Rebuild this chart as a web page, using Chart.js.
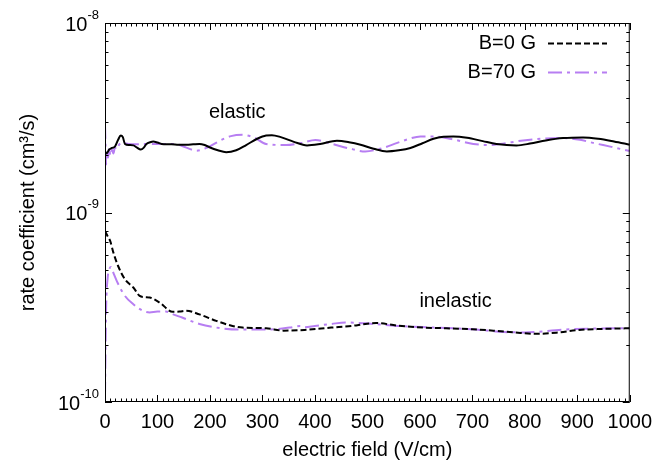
<!DOCTYPE html>
<html>
<head>
<meta charset="utf-8">
<script src="https://cdn.jsdelivr.net/npm/chart.js@4.4.1/dist/chart.umd.min.js"></script>
<style>
  html, body { margin: 0; padding: 0; background: #fff; }
  #wrap { width: 660px; height: 463px; }
</style>
</head>
<body>
<div id="wrap"><canvas id="myChart" width="660" height="463"></canvas></div>
<script>
// elastic, B=0 G (solid black)
const elasticB0X = [0, 3, 8, 13, 19, 25, 30, 34, 38, 46, 54, 61, 68, 74, 79, 86, 92, 100, 108, 118, 127, 140, 155, 168, 180, 190, 199, 215, 231, 250, 269, 290, 307, 318, 335, 360, 385, 410, 442, 465, 487, 512, 537, 560, 582, 605, 626, 645, 664, 690, 720, 746, 784, 810, 840, 873, 911, 940, 970, 1000];
const elasticB0Y = [2.10, 2.05, 2.15, 2.19, 2.23, 2.42, 2.55, 2.50, 2.30, 2.27, 2.26, 2.20, 2.15, 2.20, 2.30, 2.35, 2.37, 2.34, 2.30, 2.29, 2.29, 2.28, 2.28, 2.29, 2.30, 2.27, 2.21, 2.13, 2.08, 2.13, 2.27, 2.45, 2.55, 2.56, 2.50, 2.36, 2.26, 2.30, 2.39, 2.35, 2.28, 2.17, 2.10, 2.13, 2.19, 2.32, 2.45, 2.51, 2.52, 2.48, 2.38, 2.30, 2.26, 2.31, 2.40, 2.47, 2.49, 2.45, 2.37, 2.28];

// elastic, B=70 G (purple dash-dot)
const elasticB70X = [0, 1, 2, 4, 6, 8, 10, 13, 16, 19, 22, 27, 32, 45, 60, 80, 100, 120, 136, 155, 174, 195, 220, 240, 262, 285, 307, 345, 375, 401, 433, 465, 496, 527, 557, 580, 601, 626, 660, 702, 731, 753, 797, 840, 873, 905, 930, 965, 1000];
const elasticB70Y = [2.90, 2.30, 1.79, 2.10, 1.95, 2.20, 2.00, 2.15, 2.05, 2.20, 2.15, 2.28, 2.33, 2.30, 2.29, 2.30, 2.30, 2.30, 2.29, 2.20, 2.12, 2.20, 2.40, 2.53, 2.57, 2.48, 2.30, 2.27, 2.33, 2.41, 2.30, 2.18, 2.10, 2.18, 2.33, 2.45, 2.52, 2.52, 2.44, 2.30, 2.27, 2.30, 2.40, 2.46, 2.47, 2.42, 2.33, 2.22, 2.11];

// inelastic, B=0 G (dashed black)
const inelasticB0X = [0, 5, 10, 16, 25, 38, 54, 66, 75, 85, 104, 129, 142, 155, 180, 212, 243, 262, 307, 340, 380, 431, 470, 496, 517, 557, 607, 650, 700, 740, 780, 820, 860, 903, 950, 1000];
const inelasticB0Y = [7.97, 7.50, 7.06, 6.14, 5.22, 4.44, 4.02, 3.63, 3.58, 3.56, 3.35, 2.99, 3.00, 3.03, 2.90, 2.68, 2.52, 2.47, 2.45, 2.38, 2.40, 2.47, 2.52, 2.58, 2.61, 2.53, 2.47, 2.45, 2.42, 2.38, 2.33, 2.29, 2.32, 2.40, 2.43, 2.45];

// inelastic, B=70 G (purple dash-dot)
const inelasticB70X = [0, 2, 5, 8, 11.5, 16, 24, 38, 54, 72, 85, 100, 116, 130, 147, 180, 212, 260, 307, 352, 372, 380, 400, 431, 458, 496, 557, 626, 700, 760, 800, 873, 930, 1000];
const inelasticB70Y = [1.08, 3.00, 4.50, 5.00, 5.16, 4.80, 4.26, 3.63, 3.28, 3.03, 2.97, 3.00, 3.00, 2.90, 2.79, 2.58, 2.47, 2.41, 2.41, 2.47, 2.52, 2.48, 2.52, 2.58, 2.63, 2.60, 2.52, 2.47, 2.42, 2.34, 2.33, 2.41, 2.44, 2.45];

const yTickValues = [1e-10, 1e-9, 1e-8];
const yTickExponents = ["-10", "-9", "-8"];
const legendLabels = ["B=0 G", "B=70 G"];

const purple = "#b77ef2";
const FONT = "Liberation Sans, Arial, Helvetica, sans-serif";

function pts(xs, ys, scale) {
  return xs.map((x, i) => ({ x: x, y: ys[i] * scale }));
}

const frame = {
  id: "frame",
  afterDraw(chart) {
    const ctx = chart.ctx;
    const xs = chart.scales.x, ys = chart.scales.y;
    const a = chart.chartArea;
    ctx.save();
    ctx.strokeStyle = "#000";
    ctx.lineWidth = 1;
    ctx.strokeRect(a.left + 0.5, a.top + 0.5, a.right - a.left - 1, a.bottom - a.top - 1);
    ctx.beginPath();
    for (let v = 0; v <= 1000; v += 10) {
      const px = Math.round(xs.getPixelForValue(v)) + 0.5;
      const len = v % 100 === 0 ? 7 : 3.5;
      ctx.moveTo(px, a.bottom); ctx.lineTo(px, a.bottom - len);
      ctx.moveTo(px, a.top); ctx.lineTo(px, a.top + len);
    }
    for (let d = -10; d < -8; d++) {
      for (let m = 1; m <= 9; m++) {
        const py = Math.round(ys.getPixelForValue(m * Math.pow(10, d))) + 0.5;
        const len = m === 1 ? 7 : 3.5;
        ctx.moveTo(a.left, py); ctx.lineTo(a.left + len, py);
        ctx.moveTo(a.right, py); ctx.lineTo(a.right - len, py);
      }
    }
    const pt = Math.round(ys.getPixelForValue(1e-8)) + 0.5;
    ctx.moveTo(a.left, pt); ctx.lineTo(a.left + 7, pt);
    ctx.moveTo(a.right, pt); ctx.lineTo(a.right - 7, pt);
    ctx.stroke();

    // y tick labels with superscript exponents
    ctx.fillStyle = "#000";
    yTickValues.forEach((v, i) => {
      const py = ys.getPixelForValue(v);
      ctx.font = "13px " + FONT;
      const ew = ctx.measureText(yTickExponents[i]).width;
      const rx = a.left - 6;
      ctx.textBaseline = "middle";
      ctx.textAlign = "left";
      ctx.fillText(yTickExponents[i], rx - ew, py - 8);
      ctx.font = "20px " + FONT;
      ctx.textAlign = "right";
      ctx.fillText("10", rx - ew, py + 2);
    });

    // annotations
    ctx.font = "20px " + FONT;
    ctx.textAlign = "center";
    ctx.textBaseline = "middle";
    ctx.fillText("elastic", xs.getPixelForValue(252), ys.getPixelForValue(3.36e-9));
    ctx.fillText("inelastic", xs.getPixelForValue(668), ys.getPixelForValue(3.40e-10));

    // legend
    const items = [chart.data.datasets[2], chart.data.datasets[3]];
    items.forEach((ds, i) => {
      const y = a.top + 20 + i * 29;
      ctx.font = "20px " + FONT;
      ctx.textAlign = "right";
      ctx.fillStyle = "#000";
      ctx.fillText(legendLabels[i], 536, y);
      ctx.beginPath();
      ctx.setLineDash(ds.borderDash);
      ctx.strokeStyle = ds.borderColor;
      ctx.lineWidth = ds.borderWidth;
      ctx.moveTo(548, y + 0.5);
      ctx.lineTo(607, y + 0.5);
      ctx.stroke();
      ctx.setLineDash([]);
    });
    ctx.restore();
  }
};

const common = { pointRadius: 0, fill: false, cubicInterpolationMode: "monotone", borderWidth: 2 };

new Chart(document.getElementById("myChart").getContext("2d"), {
  type: "line",
  data: {
    datasets: [
      Object.assign({ label: "elastic B=0 G", data: pts(elasticB0X, elasticB0Y, 1e-9), borderColor: "#000", borderDash: [] }, common),
      Object.assign({ label: "elastic B=70 G", data: pts(elasticB70X, elasticB70Y, 1e-9), borderColor: purple, borderDash: [14, 5, 3, 5] }, common),
      Object.assign({ label: "inelastic B=0 G", data: pts(inelasticB0X, inelasticB0Y, 1e-10), borderColor: "#000", borderDash: [6, 3] }, common),
      Object.assign({ label: "inelastic B=70 G", data: pts(inelasticB70X, inelasticB70Y, 1e-10), borderColor: purple, borderDash: [14, 5, 3, 5] }, common)
    ]
  },
  options: {
    responsive: false,
    animation: false,
    layout: { padding: { left: 0, right: 28, top: 23, bottom: 0 } },
    plugins: { legend: { display: false }, tooltip: { enabled: false } },
    scales: {
      x: {
        type: "linear",
        min: 0,
        max: 1000,
        grid: { display: false, drawTicks: false },
        border: { display: false },
        ticks: { stepSize: 100, color: "#000", font: { family: FONT, size: 20 }, padding: 8, maxRotation: 0, autoSkip: false,
          callback: (v) => String(v) },
        title: { display: true, text: "electric field (V/cm)", color: "#000", font: { family: FONT, size: 20 }, padding: { top: 0, bottom: 1 } },
        afterFit(scale) { scale.height = 61; }
      },
      y: {
        type: "logarithmic",
        min: 1e-10,
        max: 1e-8,
        grid: { display: false, drawTicks: false },
        border: { display: false },
        ticks: { display: false },
        title: { display: true, text: "rate coefficient (cm³/s)", color: "#000", font: { family: FONT, size: 20 }, padding: { top: 16, bottom: 0 } },
        afterFit(scale) { scale.width = 105; }
      }
    }
  },
  plugins: [frame]
});
</script>
</body>
</html>
